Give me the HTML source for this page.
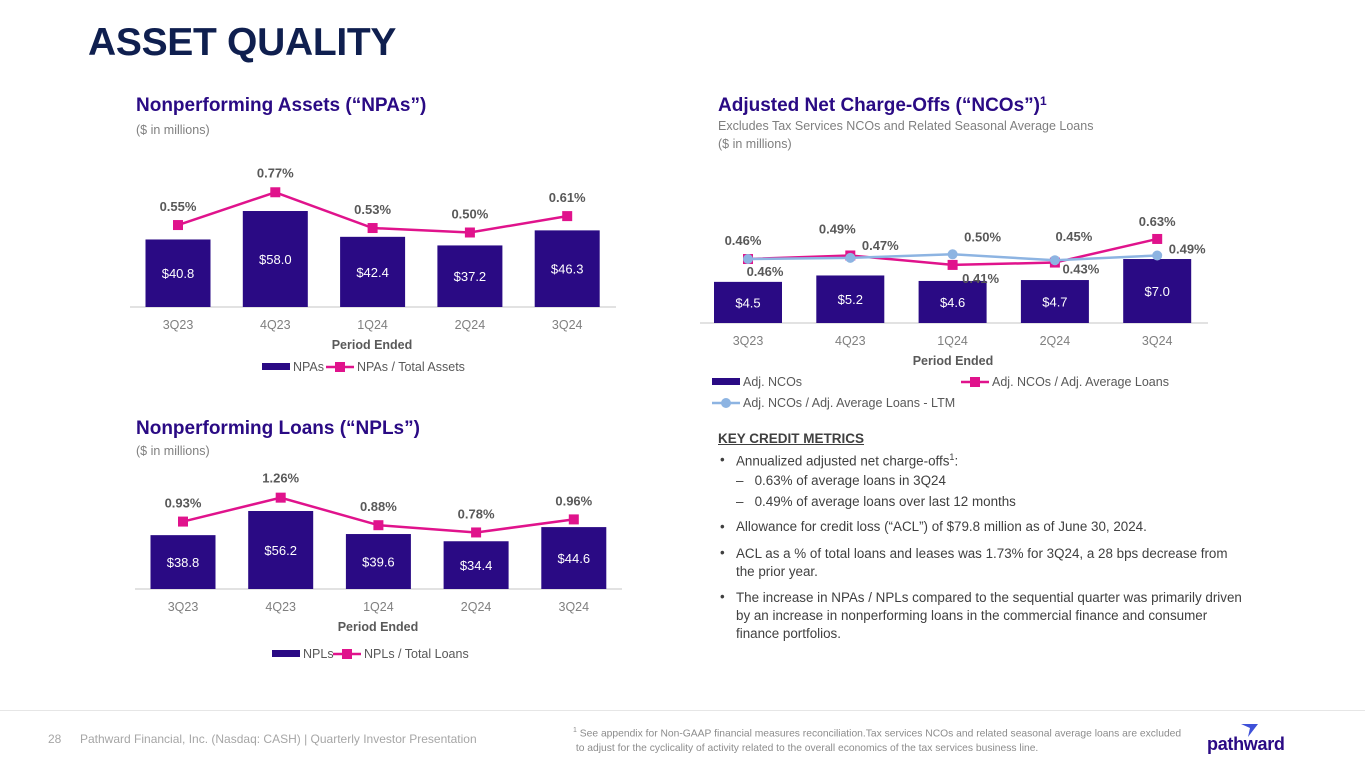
<!DOCTYPE html>
<html><head><meta charset="utf-8"><style>
body{margin:0;width:1365px;height:768px;overflow:hidden;background:#fff;font-family:"Liberation Sans",sans-serif;position:relative}
.a{position:absolute;white-space:nowrap}
.h1{left:88px;top:21px;font-size:39px;font-weight:bold;color:#0f1f4f;letter-spacing:-0.3px}
.st{font-size:19px;font-weight:bold;color:#2a0a84;line-height:22px}
.sub{font-size:12.5px;color:#7f7f7f}
.t{font-size:13.4px;color:#404040}
svg{position:absolute;left:0;top:0}
</style></head><body>
<div class="a h1">ASSET QUALITY</div>
<div class="a st" style="left:136px;top:95px">Nonperforming Assets (“NPAs”)</div>
<div class="a sub" style="left:136px;top:123px">($ in millions)</div>
<div class="a st" style="left:136px;top:418px">Nonperforming Loans (“NPLs”)</div>
<div class="a sub" style="left:136px;top:444px">($ in millions)</div>
<div class="a st" style="left:718px;top:95px">Adjusted Net Charge-Offs (“NCOs”)<span style="font-size:12px;vertical-align:top;line-height:12px">1</span></div>
<div class="a sub" style="left:718px;top:119px">Excludes Tax Services NCOs and Related Seasonal Average Loans</div>
<div class="a sub" style="left:718px;top:137px">($ in millions)</div>

<div class="a" style="left:718px;top:431px;font-size:13.5px;font-weight:bold;color:#404040;text-decoration:underline">KEY CREDIT METRICS</div>
<div>
<div class="a t" style="left:720px;top:452px">•</div><div class="a t" style="left:736px;top:452px">Annualized adjusted net charge-offs<sup style="font-size:9px">1</sup>:</div>
<div class="a t" style="left:736px;top:473px">–&nbsp;&nbsp; 0.63% of average loans in 3Q24</div>
<div class="a t" style="left:736px;top:494px">–&nbsp;&nbsp; 0.49% of average loans over last 12 months</div>
<div class="a t" style="left:720px;top:519px">•</div><div class="a t" style="left:736px;top:519px">Allowance for credit loss (“ACL”) of $79.8 million as of June 30, 2024.</div>
<div class="a t" style="left:720px;top:545px">•</div><div class="a t" style="left:736px;top:545px;line-height:18px">ACL as a % of total loans and leases was 1.73% for 3Q24, a 28 bps decrease from<br>the prior year.</div>
<div class="a t" style="left:720px;top:589px">•</div><div class="a t" style="left:736px;top:589px;line-height:18px">The increase in NPAs / NPLs compared to the sequential quarter was primarily driven<br>by an increase in nonperforming loans in the commercial finance and consumer<br>finance portfolios.</div>
</div>

<div style="position:absolute;left:0;top:710px;width:1365px;height:1px;background:#e6e6e6"></div>
<div class="a" style="left:48px;top:732px;font-size:12px;color:#a6a6a6">28</div>
<div class="a" style="left:80px;top:732px;font-size:12px;color:#a6a6a6">Pathward Financial, Inc. (Nasdaq: CASH) | Quarterly Investor Presentation</div>
<div class="a" style="left:573px;top:723px;font-size:10.3px;color:#8c8c8c;line-height:15px"><sup style="font-size:7px">1</sup> See appendix for Non-GAAP financial measures reconciliation.Tax services NCOs and related seasonal average loans are excluded<br>&nbsp;to adjust for the cyclicality of activity related to the overall economics of the tax services business line.</div>
<div class="a" style="left:1207px;top:734px;font-size:18px;font-weight:bold;color:#2a0a84;letter-spacing:-0.3px">pathward</div>
<svg width="1365" height="768"><polygon points="1241,724 1258,724 1248,737 1250,728" fill="#3f51d8"/></svg>

<svg id="c" width="1365" height="768"></svg>
<script>
const cats=["3Q23","4Q23","1Q24","2Q24","3Q24"];
const npaVals=[40.8,58.0,42.4,37.2,46.3];
const npaPct=[0.55,0.77,0.53,0.50,0.61];
const nplVals=[38.8,56.2,39.6,34.4,44.6];
const nplPct=[0.93,1.26,0.88,0.78,0.96];
const ncoVals=[4.5,5.2,4.6,4.7,7.0];
const ncoPct=[0.46,0.49,0.41,0.43,0.63];
const ncoLtm=[0.46,0.47,0.50,0.45,0.49];

const svg=document.getElementById('c');const NS="http://www.w3.org/2000/svg";
function mk(t,a,txt){const e=document.createElementNS(NS,t);for(const k in a)e.setAttribute(k,a[k]);if(txt!=null)e.textContent=txt;svg.appendChild(e);return e;}
const BAR="#2a0a84",PINK="#e0138c",BLUE="#8db4e2";
function chart(o){
  const xs=i=>o.x0+i*o.step;
  const yb=v=>o.base-v*o.bs;
  const yl=v=>o.la-v*o.lb;
  let e=mk('line',{x1:o.ax0,x2:o.ax1,y1:o.base,y2:o.base,stroke:'#d9d9d9','stroke-width':1.5});
  
  o.bars.forEach((v,i)=>{
    e=mk('rect',{x:xs(i)-o.bw/2,y:yb(v),width:o.bw,height:o.base-yb(v),fill:BAR});
    
    e=mk('text',{x:xs(i),y:(yb(v)+o.base)/2+5,'text-anchor':'middle','font-size':13,fill:'#fff'},'$'+v.toFixed(1));
    
    e=mk('text',{x:xs(i),y:o.base+22,'text-anchor':'middle','font-size':12.5,fill:'#7f7f7f'},cats[i]);
    
  });
  o.lines.forEach(L=>{
    e=mk('polyline',{points:L.v.map((v,i)=>xs(i)+','+yl(v)).join(' '),fill:'none',stroke:L.c,'stroke-width':2.5});
    
    L.v.forEach((v,i)=>{
      if(L.m=='sq')e=mk('rect',{x:xs(i)-5,y:yl(v)-5,width:10,height:10,fill:L.c});
      else e=mk('circle',{cx:xs(i),cy:yl(v),r:5,fill:L.c});
      
      const d=L.off?L.off[i]:[0,-12];
      e=mk('text',{x:xs(i)+d[0],y:yl(v)+d[1],'text-anchor':'middle','font-size':13,'font-weight':'bold',fill:'#595959'},v.toFixed(2)+'%');
      
    });
  });
  e=mk('text',{x:o.mid,y:o.base+42,'text-anchor':'middle','font-size':12.5,'font-weight':'bold',fill:'#595959'},'Period Ended');
  
  o.legend.forEach(g=>{
    if(g.t=='bar')e=mk('rect',{x:g.x,y:g.y-5,width:28,height:7,fill:BAR});
    else{e=mk('line',{x1:g.x,x2:g.x+28,y1:g.y-1,y2:g.y-1,stroke:g.c,'stroke-width':2.5});
      
      e=g.t=='sq'?mk('rect',{x:g.x+9,y:g.y-6,width:10,height:10,fill:g.c}):mk('circle',{cx:g.x+14,cy:g.y-1,r:5,fill:g.c});}
    
    e=mk('text',{x:g.x+31,y:g.y+3,'font-size':12.5,fill:'#595959'},g.l);
    
  });
}
chart({id:'npa',x0:178,step:97.3,bw:65,base:307,bs:1.655,la:307,lb:149,ax0:130,ax1:616,mid:372,bars:npaVals,
 lines:[{v:npaPct,c:PINK,m:'sq',name:'npa-pct',off:[[0,-14],[0,-15],[0,-14],[0,-14],[0,-14]]}],
 legend:[{t:'bar',x:262,y:368,l:'NPAs'},{t:'sq',x:326,y:368,c:PINK,l:'NPAs / Total Assets'}]});
chart({id:'npl',x0:183,step:97.7,bw:65,base:589,bs:1.388,la:589,lb:72.5,ax0:135,ax1:622,mid:378,bars:nplVals,
 lines:[{v:nplPct,c:PINK,m:'sq',name:'npl-pct',off:[[0,-14],[0,-15],[0,-14],[0,-14],[0,-14]]}],
 legend:[{t:'bar',x:272,y:655,l:'NPLs'},{t:'sq',x:333,y:655,c:PINK,l:'NPLs / Total Loans'}]});
chart({id:'nco',x0:748,step:102.3,bw:68,base:323,bs:9.14,la:313.3,lb:118,ax0:700,ax1:1208,mid:953,bars:ncoVals,
 lines:[{v:ncoPct,c:PINK,m:'sq',name:'nco-pct',off:[[-5,-14],[-13,-22],[28,18],[26,11],[0,-13]]},
        {v:ncoLtm,c:BLUE,m:'ci',name:'nco-ltm',off:[[17,17],[30,-8],[30,-13],[19,-19],[30,-2]]}],
 legend:[{t:'bar',x:712,y:383,l:'Adj. NCOs'},{t:'sq',x:961,y:383,c:PINK,l:'Adj. NCOs / Adj. Average Loans'},{t:'ci',x:712,y:404,c:BLUE,l:'Adj. NCOs / Adj. Average Loans - LTM'}]});
</script>
</body></html>
